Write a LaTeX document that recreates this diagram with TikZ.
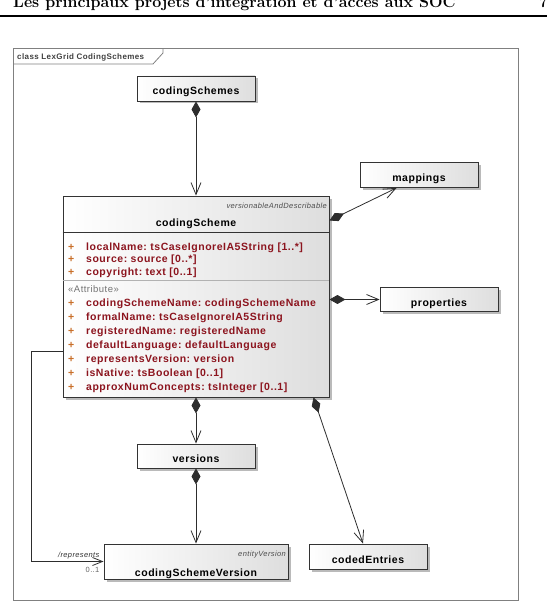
\documentclass[tikz,border=0pt]{standalone}
\usepackage{fontspec}
\usepackage{tikz}
\usetikzlibrary{arrows.meta,positioning,shadows}
\newfontfamily\umlfont[LetterSpace=5]{Liberation Sans}

\definecolor{attrred}{RGB}{140,20,30}
\definecolor{plusorange}{RGB}{200,110,40}
\definecolor{framegray}{RGB}{128,128,128}
\definecolor{linegray}{RGB}{45,45,45}

\tikzset{
  umlbox/.style={draw=black!80, line width=0.9pt, left color=white, right color=black!13,
    drop shadow={shadow xshift=2.5pt, shadow yshift=-2.5pt, fill=black!45, opacity=0.6}},
  smallbox/.style={umlbox, minimum width=118pt, minimum height=25pt, inner sep=0pt,
    font=\umlfont\fontsize{10.5}{12}\selectfont\bfseries, text height=13pt, text depth=0pt},
  classname/.style={anchor=base, inner sep=0pt, font=\umlfont\fontsize{10.5}{12}\selectfont\bfseries},
  attr/.style={anchor=base west, inner sep=0pt, text=attrred, font=\umlfont\fontsize{10.5}{12}\selectfont\bfseries},
  plus/.style={anchor=base west, inner sep=0pt, text=plusorange, font=\umlfont\fontsize{10.5}{12}\selectfont\bfseries},
  stereo/.style={anchor=base east, inner sep=0pt, text=black!70, font=\umlfont\fontsize{7.5}{9}\selectfont\itshape},
  compo/.style={draw=linegray, line width=0.8pt, {Diamond[length=16pt,width=9pt]}-{Straight Barb[length=12pt,width=10pt]}},
  assoc/.style={draw=linegray, line width=0.8pt, -{Straight Barb[length=10pt,width=8pt]}},
  rolename/.style={inner sep=0pt, text=black!80, font=\umlfont\fontsize{7.5}{9}\selectfont\itshape},
  multname/.style={inner sep=0pt, text=black!60, font=\umlfont\fontsize{7.5}{9}\selectfont},
}

\begin{document}
\begin{tikzpicture}[x=1pt, y=-1pt]
\useasboundingbox (0,0) rectangle (547,604);

% page head
\node[anchor=base west, inner sep=0pt, font=\fontsize{16}{19}\selectfont\bfseries] (head) at (13,8)
  {Les principaux projets d'intégration et d'accès aux SOC};
\node[anchor=base west, inner sep=0pt, font=\fontsize{16}{19}\selectfont\bfseries] (pagenum) at (539,8) {7};
\draw[line width=1.5pt] (0,16) -- (547,16);

% frame
\draw[framegray, line width=1pt] (13,49) rectangle (518,600);
\draw[framegray, line width=0.8pt] (13,64) -- (153,64) -- (163,53) -- (163,49);
\node[anchor=west, inner sep=0pt, text=black!75, font=\umlfont\fontsize{8}{9}\selectfont\bfseries] (frametitle) at (17,57)
  {class LexGrid CodingSchemes};

% simple classes
\node[smallbox] (schemes) at (196,88.5) {codingSchemes};
\node[smallbox] (mappings) at (419,175) {mappings};
\node[smallbox, minimum height=24pt] (properties) at (439,299.5) {properties};
\node[smallbox, minimum height=24pt] (versions) at (196,456) {versions};
\node[smallbox] (coded) at (368,556.5) {codedEntries};

% codingScheme
\node[umlbox, minimum width=266pt, minimum height=201pt, inner sep=0pt] (scheme) at (196,296.5) {};
\node[stereo] (schemester) at (327,208) {versionableAndDescribable};
\node[classname] (schemename) at (196,226) {codingScheme};
\draw[black!80, line width=0.8pt] ([yshift=-37pt]scheme.north west) -- ([yshift=-37pt]scheme.north east);
\draw[black!30, line width=0.6pt] ([yshift=-85pt]scheme.north west) -- ([yshift=-85pt]scheme.north east);

\node[plus] (p1) at (68,250.5) {+};
\node[attr] (a1) at (86,250.5) {localName:\ tsCaseIgnoreIA5String [1..*]};
\node[plus] (p2) at (68,262.5) {+};
\node[attr] (a2) at (86,262.5) {source:\ source [0..*]};
\node[plus] (p3) at (68,275.5) {+};
\node[attr] (a3) at (86,275.5) {copyright:\ text [0..1]};

\node[anchor=base west, inner sep=0pt, text=black!55, font=\umlfont\fontsize{9.5}{11}\selectfont] (attrster) at (68,292.5) {«Attribute»};
\node[plus] (p4) at (68,306.5) {+};
\node[attr] (a4) at (86,306.5) {codingSchemeName:\ codingSchemeName};
\node[plus] (p5) at (68,320.5) {+};
\node[attr] (a5) at (86,320.5) {formalName:\ tsCaseIgnoreIA5String};
\node[plus] (p6) at (68,334.5) {+};
\node[attr] (a6) at (86,334.5) {registeredName:\ registeredName};
\node[plus] (p7) at (68,348.5) {+};
\node[attr] (a7) at (86,348.5) {defaultLanguage:\ defaultLanguage};
\node[plus] (p8) at (68,362.5) {+};
\node[attr] (a8) at (86,362.5) {representsVersion:\ version};
\node[plus] (p9) at (68,376.5) {+};
\node[attr] (a9) at (86,376.5) {isNative:\ tsBoolean [0..1]};
\node[plus] (p10) at (68,390.5) {+};
\node[attr] (a10) at (86,390.5) {approxNumConcepts:\ tsInteger [0..1]};

% codingSchemeVersion
\node[umlbox, minimum width=184pt, minimum height=35pt, inner sep=0pt] (csv) at (196,561.5) {};
\node[stereo] (csvster) at (286,556) {entityVersion};
\node[classname] (csvname) at (196,576) {codingSchemeVersion};

% connectors
\draw[compo] (schemes.south) -- (scheme.north);
\draw[compo] ([yshift=-25pt]scheme.north east) -- ([xshift=37pt]mappings.south west);
\draw[compo] (scheme.east |- properties.west) -- (properties.west);
\draw[compo] (scheme.south) -- (versions.north);
\draw[compo] (versions.south) -- (csv.north);
\draw[compo] ([xshift=-16pt]scheme.south east) -- ([xshift=-5pt]coded.north);
\draw[assoc] ([yshift=-55pt]scheme.west) -- ++(-31,0) |- (csv.west);
\node[rolename, above left=2pt and 4pt of csv.west] (rolerep) {/represents};
\node[multname, below left=6pt and 4pt of csv.west] (rolemult) {0..1};
\end{tikzpicture}
\end{document}
